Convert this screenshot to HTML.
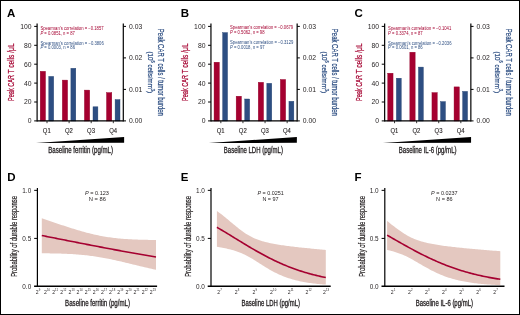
<!DOCTYPE html>
<html><head><meta charset="utf-8"><style>
html,body{margin:0;padding:0;background:#fff;}
svg{display:block;font-family:"Liberation Sans", sans-serif;will-change:transform;}
</style></head><body>
<svg width="520" height="315" viewBox="0 0 520 315">
<rect x="0" y="0" width="520" height="315" fill="#fff"/>
<g transform="translate(0,0)">
<text x="7" y="16.8" font-size="11.5" fill="#000" font-weight="bold">A</text>
<rect x="40.2" y="71.3" width="5.3" height="49.7" fill="#a50030" stroke="#930028" stroke-width="0.4"/>
<rect x="48.8" y="76.4" width="4.9" height="44.6" fill="#2d4e82" stroke="#21406f" stroke-width="0.4"/>
<rect x="62.3" y="80.1" width="5.3" height="40.9" fill="#a50030" stroke="#930028" stroke-width="0.4"/>
<rect x="70.9" y="68.3" width="4.9" height="52.7" fill="#2d4e82" stroke="#21406f" stroke-width="0.4"/>
<rect x="84.4" y="90.1" width="5.3" height="30.9" fill="#a50030" stroke="#930028" stroke-width="0.4"/>
<rect x="93" y="106.8" width="4.9" height="14.2" fill="#2d4e82" stroke="#21406f" stroke-width="0.4"/>
<rect x="106.5" y="92.6" width="5.3" height="28.4" fill="#a50030" stroke="#930028" stroke-width="0.4"/>
<rect x="115.1" y="99.6" width="4.9" height="21.4" fill="#2d4e82" stroke="#21406f" stroke-width="0.4"/>
<line x1="37.1" y1="23.6" x2="37.1" y2="121.4" stroke="#000" stroke-width="1.2"/>
<line x1="123.3" y1="23.6" x2="123.3" y2="121.4" stroke="#000" stroke-width="1.2"/>
<line x1="37.1" y1="120.8" x2="123.3" y2="120.8" stroke="#000" stroke-width="1.2"/>
<line x1="34.2" y1="120.9" x2="37.1" y2="120.9" stroke="#000" stroke-width="1.0"/>
<text x="31.6" y="123.35" font-size="6.8" fill="#231f20" text-anchor="end">0</text>
<line x1="34.2" y1="102" x2="37.1" y2="102" stroke="#000" stroke-width="1.0"/>
<text x="31.6" y="104.45" font-size="6.8" fill="#231f20" text-anchor="end">20</text>
<line x1="34.2" y1="83.1" x2="37.1" y2="83.1" stroke="#000" stroke-width="1.0"/>
<text x="31.6" y="85.55" font-size="6.8" fill="#231f20" text-anchor="end">40</text>
<line x1="34.2" y1="64.2" x2="37.1" y2="64.2" stroke="#000" stroke-width="1.0"/>
<text x="31.6" y="66.65" font-size="6.8" fill="#231f20" text-anchor="end">60</text>
<line x1="34.2" y1="45.3" x2="37.1" y2="45.3" stroke="#000" stroke-width="1.0"/>
<text x="31.6" y="47.75" font-size="6.8" fill="#231f20" text-anchor="end">80</text>
<line x1="34.2" y1="26.4" x2="37.1" y2="26.4" stroke="#000" stroke-width="1.0"/>
<text x="31.6" y="28.85" font-size="6.8" fill="#231f20" text-anchor="end">100</text>
<line x1="123.3" y1="120.9" x2="126" y2="120.9" stroke="#000" stroke-width="1.0"/>
<text x="129" y="123.35" font-size="6.8" fill="#231f20">0.00</text>
<line x1="123.3" y1="89.4" x2="126" y2="89.4" stroke="#000" stroke-width="1.0"/>
<text x="129" y="91.85" font-size="6.8" fill="#231f20">0.01</text>
<line x1="123.3" y1="57.9" x2="126" y2="57.9" stroke="#000" stroke-width="1.0"/>
<text x="129" y="60.35" font-size="6.8" fill="#231f20">0.02</text>
<line x1="123.3" y1="26.4" x2="126" y2="26.4" stroke="#000" stroke-width="1.0"/>
<text x="129" y="28.85" font-size="6.8" fill="#231f20">0.03</text>
<line x1="47" y1="120.8" x2="47" y2="123.2" stroke="#000" stroke-width="0.8"/>
<text x="46.8" y="132.75" font-size="6.3" fill="#231f20" text-anchor="middle" textLength="7.9" lengthAdjust="spacingAndGlyphs" stroke="#231f20" stroke-width="0.12">Q1</text>
<line x1="69.1" y1="120.8" x2="69.1" y2="123.2" stroke="#000" stroke-width="0.8"/>
<text x="68.9" y="132.75" font-size="6.3" fill="#231f20" text-anchor="middle" textLength="7.9" lengthAdjust="spacingAndGlyphs" stroke="#231f20" stroke-width="0.12">Q2</text>
<line x1="91.2" y1="120.8" x2="91.2" y2="123.2" stroke="#000" stroke-width="0.8"/>
<text x="91" y="132.75" font-size="6.3" fill="#231f20" text-anchor="middle" textLength="7.9" lengthAdjust="spacingAndGlyphs" stroke="#231f20" stroke-width="0.12">Q3</text>
<line x1="113.3" y1="120.8" x2="113.3" y2="123.2" stroke="#000" stroke-width="0.8"/>
<text x="113.1" y="132.75" font-size="6.3" fill="#231f20" text-anchor="middle" textLength="7.9" lengthAdjust="spacingAndGlyphs" stroke="#231f20" stroke-width="0.12">Q4</text>
<polygon points="36,142.95 124.1,137.1 124.1,142.85 36,143.05" fill="#000"/>
<text x="48.3" y="152.9" font-size="8.2" fill="#231f20" textLength="64.7" lengthAdjust="spacingAndGlyphs" stroke="#231f20" stroke-width="0.3">Baseline ferritin (pg/mL)</text>
<text x="0" y="0" font-size="9.0" fill="#a50030" textLength="26" lengthAdjust="spacingAndGlyphs" transform="translate(14.4,101.0) rotate(-90)" stroke="#a50030" stroke-width="0.22">Peak CAR</text>
<text x="0" y="0" font-size="9.0" fill="#a50030" textLength="30.2" lengthAdjust="spacingAndGlyphs" transform="translate(14.4,73.6) rotate(-90)" stroke="#a50030" stroke-width="0.22">T cells /μL</text>
<text x="0" y="0" font-size="8.3" fill="#2d4e82" text-anchor="middle" textLength="87" lengthAdjust="spacingAndGlyphs" transform="translate(158.0,72.35) rotate(90)" stroke="#2d4e82" stroke-width="0.22">Peak CAR T cells / tumor burden</text>
<text x="0" y="0" font-size="7.8" fill="#2d4e82" text-anchor="middle" textLength="41.5" lengthAdjust="spacingAndGlyphs" transform="translate(147.9,72.3) rotate(90)" stroke="#2d4e82" stroke-width="0.22">(10<tspan font-size="4.8" dy="-3.1">6</tspan><tspan dy="3.1"> cells/mm</tspan><tspan font-size="4.8" dy="-3.1">3</tspan><tspan dy="3.1">)</tspan></text>
<text x="40.4" y="29.6" font-size="4.6" fill="#a50030" textLength="63.2" lengthAdjust="spacingAndGlyphs">Spearman’s correlation = −0.1857</text>
<text x="40.4" y="35" font-size="4.6" fill="#a50030" textLength="34.5" lengthAdjust="spacingAndGlyphs"><tspan font-style="italic">P</tspan> = 0.0851, n = 87</text>
<text x="40.4" y="44.8" font-size="4.6" fill="#2d4e82" textLength="63.4" lengthAdjust="spacingAndGlyphs">Spearman’s correlation = −0.3806</text>
<text x="40.4" y="49.2" font-size="4.6" fill="#2d4e82" textLength="34.6" lengthAdjust="spacingAndGlyphs"><tspan font-style="italic">P</tspan> = 0.0003, n = 86</text>
</g>
<g transform="translate(173.85,0)">
<text x="7" y="16.8" font-size="11.5" fill="#000" font-weight="bold">B</text>
<rect x="40.2" y="62.2" width="5.3" height="58.8" fill="#a50030" stroke="#930028" stroke-width="0.4"/>
<rect x="48.8" y="32.6" width="4.9" height="88.4" fill="#2d4e82" stroke="#21406f" stroke-width="0.4"/>
<rect x="62.3" y="96.2" width="5.3" height="24.8" fill="#a50030" stroke="#930028" stroke-width="0.4"/>
<rect x="70.9" y="99" width="4.9" height="22" fill="#2d4e82" stroke="#21406f" stroke-width="0.4"/>
<rect x="84.4" y="82.3" width="5.3" height="38.7" fill="#a50030" stroke="#930028" stroke-width="0.4"/>
<rect x="93" y="83.3" width="4.9" height="37.7" fill="#2d4e82" stroke="#21406f" stroke-width="0.4"/>
<rect x="106.5" y="79.5" width="5.3" height="41.5" fill="#a50030" stroke="#930028" stroke-width="0.4"/>
<rect x="115.1" y="101.3" width="4.9" height="19.7" fill="#2d4e82" stroke="#21406f" stroke-width="0.4"/>
<line x1="37.1" y1="23.6" x2="37.1" y2="121.4" stroke="#000" stroke-width="1.2"/>
<line x1="123.3" y1="23.6" x2="123.3" y2="121.4" stroke="#000" stroke-width="1.2"/>
<line x1="37.1" y1="120.8" x2="123.3" y2="120.8" stroke="#000" stroke-width="1.2"/>
<line x1="34.2" y1="120.9" x2="37.1" y2="120.9" stroke="#000" stroke-width="1.0"/>
<text x="31.6" y="123.35" font-size="6.8" fill="#231f20" text-anchor="end">0</text>
<line x1="34.2" y1="102" x2="37.1" y2="102" stroke="#000" stroke-width="1.0"/>
<text x="31.6" y="104.45" font-size="6.8" fill="#231f20" text-anchor="end">20</text>
<line x1="34.2" y1="83.1" x2="37.1" y2="83.1" stroke="#000" stroke-width="1.0"/>
<text x="31.6" y="85.55" font-size="6.8" fill="#231f20" text-anchor="end">40</text>
<line x1="34.2" y1="64.2" x2="37.1" y2="64.2" stroke="#000" stroke-width="1.0"/>
<text x="31.6" y="66.65" font-size="6.8" fill="#231f20" text-anchor="end">60</text>
<line x1="34.2" y1="45.3" x2="37.1" y2="45.3" stroke="#000" stroke-width="1.0"/>
<text x="31.6" y="47.75" font-size="6.8" fill="#231f20" text-anchor="end">80</text>
<line x1="34.2" y1="26.4" x2="37.1" y2="26.4" stroke="#000" stroke-width="1.0"/>
<text x="31.6" y="28.85" font-size="6.8" fill="#231f20" text-anchor="end">100</text>
<line x1="123.3" y1="120.9" x2="126" y2="120.9" stroke="#000" stroke-width="1.0"/>
<text x="129" y="123.35" font-size="6.8" fill="#231f20">0.00</text>
<line x1="123.3" y1="89.4" x2="126" y2="89.4" stroke="#000" stroke-width="1.0"/>
<text x="129" y="91.85" font-size="6.8" fill="#231f20">0.01</text>
<line x1="123.3" y1="57.9" x2="126" y2="57.9" stroke="#000" stroke-width="1.0"/>
<text x="129" y="60.35" font-size="6.8" fill="#231f20">0.02</text>
<line x1="123.3" y1="26.4" x2="126" y2="26.4" stroke="#000" stroke-width="1.0"/>
<text x="129" y="28.85" font-size="6.8" fill="#231f20">0.03</text>
<line x1="47" y1="120.8" x2="47" y2="123.2" stroke="#000" stroke-width="0.8"/>
<text x="46.8" y="132.75" font-size="6.3" fill="#231f20" text-anchor="middle" textLength="7.9" lengthAdjust="spacingAndGlyphs" stroke="#231f20" stroke-width="0.12">Q1</text>
<line x1="69.1" y1="120.8" x2="69.1" y2="123.2" stroke="#000" stroke-width="0.8"/>
<text x="68.9" y="132.75" font-size="6.3" fill="#231f20" text-anchor="middle" textLength="7.9" lengthAdjust="spacingAndGlyphs" stroke="#231f20" stroke-width="0.12">Q2</text>
<line x1="91.2" y1="120.8" x2="91.2" y2="123.2" stroke="#000" stroke-width="0.8"/>
<text x="91" y="132.75" font-size="6.3" fill="#231f20" text-anchor="middle" textLength="7.9" lengthAdjust="spacingAndGlyphs" stroke="#231f20" stroke-width="0.12">Q3</text>
<line x1="113.3" y1="120.8" x2="113.3" y2="123.2" stroke="#000" stroke-width="0.8"/>
<text x="113.1" y="132.75" font-size="6.3" fill="#231f20" text-anchor="middle" textLength="7.9" lengthAdjust="spacingAndGlyphs" stroke="#231f20" stroke-width="0.12">Q4</text>
<polygon points="34.9,142.95 123,137.1 123,142.85 34.9,143.05" fill="#000"/>
<text x="49.95" y="152.9" font-size="8.2" fill="#231f20" textLength="59.1" lengthAdjust="spacingAndGlyphs" stroke="#231f20" stroke-width="0.3">Baseline LDH (pg/mL)</text>
<text x="0" y="0" font-size="9.0" fill="#a50030" textLength="26" lengthAdjust="spacingAndGlyphs" transform="translate(14.4,101.0) rotate(-90)" stroke="#a50030" stroke-width="0.22">Peak CAR</text>
<text x="0" y="0" font-size="9.0" fill="#a50030" textLength="30.2" lengthAdjust="spacingAndGlyphs" transform="translate(14.4,73.6) rotate(-90)" stroke="#a50030" stroke-width="0.22">T cells /μL</text>
<text x="0" y="0" font-size="8.3" fill="#2d4e82" text-anchor="middle" textLength="87" lengthAdjust="spacingAndGlyphs" transform="translate(158.0,72.35) rotate(90)" stroke="#2d4e82" stroke-width="0.22">Peak CAR T cells / tumor burden</text>
<text x="0" y="0" font-size="7.8" fill="#2d4e82" text-anchor="middle" textLength="41.5" lengthAdjust="spacingAndGlyphs" transform="translate(147.9,72.3) rotate(90)" stroke="#2d4e82" stroke-width="0.22">(10<tspan font-size="4.8" dy="-3.1">6</tspan><tspan dy="3.1"> cells/mm</tspan><tspan font-size="4.8" dy="-3.1">3</tspan><tspan dy="3.1">)</tspan></text>
<text x="56.15" y="28.9" font-size="4.6" fill="#a50030" textLength="63.2" lengthAdjust="spacingAndGlyphs">Spearman’s correlation = −0.0679</text>
<text x="56.15" y="34.3" font-size="4.6" fill="#a50030" textLength="34.5" lengthAdjust="spacingAndGlyphs"><tspan font-style="italic">P</tspan> = 0.5062, n = 98</text>
<text x="56.15" y="44.1" font-size="4.6" fill="#2d4e82" textLength="63.4" lengthAdjust="spacingAndGlyphs">Spearman’s correlation = −0.3129</text>
<text x="56.15" y="48.5" font-size="4.6" fill="#2d4e82" textLength="34.6" lengthAdjust="spacingAndGlyphs"><tspan font-style="italic">P</tspan> = 0.0018, n = 97</text>
</g>
<g transform="translate(347.55,0)">
<text x="7" y="16.8" font-size="11.5" fill="#000" font-weight="bold">C</text>
<rect x="40.2" y="73.2" width="5.3" height="47.8" fill="#a50030" stroke="#930028" stroke-width="0.4"/>
<rect x="48.8" y="78.2" width="4.9" height="42.8" fill="#2d4e82" stroke="#21406f" stroke-width="0.4"/>
<rect x="62.3" y="52.2" width="5.3" height="68.8" fill="#a50030" stroke="#930028" stroke-width="0.4"/>
<rect x="70.9" y="67.1" width="4.9" height="53.9" fill="#2d4e82" stroke="#21406f" stroke-width="0.4"/>
<rect x="84.4" y="92.6" width="5.3" height="28.4" fill="#a50030" stroke="#930028" stroke-width="0.4"/>
<rect x="93" y="101.6" width="4.9" height="19.4" fill="#2d4e82" stroke="#21406f" stroke-width="0.4"/>
<rect x="106.5" y="86.9" width="5.3" height="34.1" fill="#a50030" stroke="#930028" stroke-width="0.4"/>
<rect x="115.1" y="91.4" width="4.9" height="29.6" fill="#2d4e82" stroke="#21406f" stroke-width="0.4"/>
<line x1="37.1" y1="23.6" x2="37.1" y2="121.4" stroke="#000" stroke-width="1.2"/>
<line x1="123.3" y1="23.6" x2="123.3" y2="121.4" stroke="#000" stroke-width="1.2"/>
<line x1="37.1" y1="120.8" x2="123.3" y2="120.8" stroke="#000" stroke-width="1.2"/>
<line x1="34.2" y1="120.9" x2="37.1" y2="120.9" stroke="#000" stroke-width="1.0"/>
<text x="31.6" y="123.35" font-size="6.8" fill="#231f20" text-anchor="end">0</text>
<line x1="34.2" y1="102" x2="37.1" y2="102" stroke="#000" stroke-width="1.0"/>
<text x="31.6" y="104.45" font-size="6.8" fill="#231f20" text-anchor="end">20</text>
<line x1="34.2" y1="83.1" x2="37.1" y2="83.1" stroke="#000" stroke-width="1.0"/>
<text x="31.6" y="85.55" font-size="6.8" fill="#231f20" text-anchor="end">40</text>
<line x1="34.2" y1="64.2" x2="37.1" y2="64.2" stroke="#000" stroke-width="1.0"/>
<text x="31.6" y="66.65" font-size="6.8" fill="#231f20" text-anchor="end">60</text>
<line x1="34.2" y1="45.3" x2="37.1" y2="45.3" stroke="#000" stroke-width="1.0"/>
<text x="31.6" y="47.75" font-size="6.8" fill="#231f20" text-anchor="end">80</text>
<line x1="34.2" y1="26.4" x2="37.1" y2="26.4" stroke="#000" stroke-width="1.0"/>
<text x="31.6" y="28.85" font-size="6.8" fill="#231f20" text-anchor="end">100</text>
<line x1="123.3" y1="120.9" x2="126" y2="120.9" stroke="#000" stroke-width="1.0"/>
<text x="129" y="123.35" font-size="6.8" fill="#231f20">0.00</text>
<line x1="123.3" y1="89.4" x2="126" y2="89.4" stroke="#000" stroke-width="1.0"/>
<text x="129" y="91.85" font-size="6.8" fill="#231f20">0.01</text>
<line x1="123.3" y1="57.9" x2="126" y2="57.9" stroke="#000" stroke-width="1.0"/>
<text x="129" y="60.35" font-size="6.8" fill="#231f20">0.02</text>
<line x1="123.3" y1="26.4" x2="126" y2="26.4" stroke="#000" stroke-width="1.0"/>
<text x="129" y="28.85" font-size="6.8" fill="#231f20">0.03</text>
<line x1="47" y1="120.8" x2="47" y2="123.2" stroke="#000" stroke-width="0.8"/>
<text x="46.8" y="132.75" font-size="6.3" fill="#231f20" text-anchor="middle" textLength="7.9" lengthAdjust="spacingAndGlyphs" stroke="#231f20" stroke-width="0.12">Q1</text>
<line x1="69.1" y1="120.8" x2="69.1" y2="123.2" stroke="#000" stroke-width="0.8"/>
<text x="68.9" y="132.75" font-size="6.3" fill="#231f20" text-anchor="middle" textLength="7.9" lengthAdjust="spacingAndGlyphs" stroke="#231f20" stroke-width="0.12">Q2</text>
<line x1="91.2" y1="120.8" x2="91.2" y2="123.2" stroke="#000" stroke-width="0.8"/>
<text x="91" y="132.75" font-size="6.3" fill="#231f20" text-anchor="middle" textLength="7.9" lengthAdjust="spacingAndGlyphs" stroke="#231f20" stroke-width="0.12">Q3</text>
<line x1="113.3" y1="120.8" x2="113.3" y2="123.2" stroke="#000" stroke-width="0.8"/>
<text x="113.1" y="132.75" font-size="6.3" fill="#231f20" text-anchor="middle" textLength="7.9" lengthAdjust="spacingAndGlyphs" stroke="#231f20" stroke-width="0.12">Q4</text>
<polygon points="35.4,142.95 123.5,137.1 123.5,142.85 35.4,143.05" fill="#000"/>
<text x="51.25" y="152.9" font-size="8.2" fill="#231f20" textLength="57.7" lengthAdjust="spacingAndGlyphs" stroke="#231f20" stroke-width="0.3">Baseline IL-6 (pg/mL)</text>
<text x="0" y="0" font-size="9.0" fill="#a50030" textLength="26" lengthAdjust="spacingAndGlyphs" transform="translate(14.4,101.0) rotate(-90)" stroke="#a50030" stroke-width="0.22">Peak CAR</text>
<text x="0" y="0" font-size="9.0" fill="#a50030" textLength="30.2" lengthAdjust="spacingAndGlyphs" transform="translate(14.4,73.6) rotate(-90)" stroke="#a50030" stroke-width="0.22">T cells /μL</text>
<text x="0" y="0" font-size="8.3" fill="#2d4e82" text-anchor="middle" textLength="87" lengthAdjust="spacingAndGlyphs" transform="translate(158.0,72.35) rotate(90)" stroke="#2d4e82" stroke-width="0.22">Peak CAR T cells / tumor burden</text>
<text x="0" y="0" font-size="7.8" fill="#2d4e82" text-anchor="middle" textLength="41.5" lengthAdjust="spacingAndGlyphs" transform="translate(147.9,72.3) rotate(90)" stroke="#2d4e82" stroke-width="0.22">(10<tspan font-size="4.8" dy="-3.1">6</tspan><tspan dy="3.1"> cells/mm</tspan><tspan font-size="4.8" dy="-3.1">3</tspan><tspan dy="3.1">)</tspan></text>
<text x="40.55" y="29.6" font-size="4.6" fill="#a50030" textLength="63.2" lengthAdjust="spacingAndGlyphs">Spearman’s correlation = −0.1041</text>
<text x="40.55" y="35" font-size="4.6" fill="#a50030" textLength="34.5" lengthAdjust="spacingAndGlyphs"><tspan font-style="italic">P</tspan> = 0.3374, n = 87</text>
<text x="40.55" y="44.8" font-size="4.6" fill="#2d4e82" textLength="63.4" lengthAdjust="spacingAndGlyphs">Spearman’s correlation = −0.2036</text>
<text x="40.55" y="49.2" font-size="4.6" fill="#2d4e82" textLength="34.6" lengthAdjust="spacingAndGlyphs"><tspan font-style="italic">P</tspan> = 0.0601, n = 86</text>
</g>
<polygon fill="#e4c8c0" points="41.8,218.37 43.25,218.84 44.69,219.32 46.14,219.8 47.58,220.29 49.03,220.77 50.47,221.26 51.92,221.74 53.36,222.23 54.81,222.71 56.26,223.2 57.7,223.69 59.15,224.17 60.59,224.65 62.04,225.13 63.48,225.61 64.93,226.09 66.37,226.56 67.82,227.03 69.27,227.5 70.71,227.96 72.16,228.42 73.6,228.87 75.05,229.32 76.49,229.76 77.94,230.19 79.38,230.62 80.83,231.04 82.28,231.45 83.72,231.85 85.17,232.24 86.61,232.63 88.06,233.01 89.5,233.37 90.95,233.73 92.39,234.07 93.84,234.4 95.29,234.73 96.73,235.04 98.18,235.34 99.62,235.63 101.07,235.91 102.51,236.17 103.96,236.43 105.41,236.67 106.85,236.91 108.3,237.13 109.74,237.34 111.19,237.54 112.63,237.73 114.08,237.91 115.52,238.08 116.97,238.23 118.42,238.38 119.86,238.53 121.31,238.66 122.75,238.78 124.2,238.9 125.64,239 127.09,239.1 128.53,239.2 129.98,239.28 131.43,239.36 132.87,239.43 134.32,239.5 135.76,239.56 137.21,239.62 138.65,239.67 140.1,239.71 141.54,239.76 142.99,239.79 144.44,239.82 145.88,239.85 147.33,239.87 148.77,239.89 150.22,239.91 151.66,239.92 153.11,239.93 154.55,239.94 156,239.95 156,269.84 154.55,269.52 153.11,269.2 151.66,268.87 150.22,268.54 148.77,268.2 147.33,267.87 145.88,267.53 144.44,267.18 142.99,266.84 141.54,266.49 140.1,266.15 138.65,265.8 137.21,265.45 135.76,265.1 134.32,264.75 132.87,264.39 131.43,264.04 129.98,263.69 128.53,263.34 127.09,262.99 125.64,262.65 124.2,262.3 122.75,261.96 121.31,261.62 119.86,261.29 118.42,260.95 116.97,260.63 115.52,260.3 114.08,259.98 112.63,259.67 111.19,259.37 109.74,259.07 108.3,258.77 106.85,258.49 105.41,258.21 103.96,257.94 102.51,257.67 101.07,257.42 99.62,257.17 98.18,256.93 96.73,256.7 95.29,256.48 93.84,256.27 92.39,256.07 90.95,255.88 89.5,255.69 88.06,255.51 86.61,255.35 85.17,255.19 83.72,255.04 82.28,254.9 80.83,254.76 79.38,254.64 77.94,254.52 76.49,254.41 75.05,254.3 73.6,254.2 72.16,254.11 70.71,254.03 69.27,253.95 67.82,253.88 66.37,253.81 64.93,253.75 63.48,253.69 62.04,253.64 60.59,253.6 59.15,253.55 57.7,253.52 56.26,253.48 54.81,253.45 53.36,253.43 51.92,253.4 50.47,253.39 49.03,253.37 47.58,253.36 46.14,253.35 44.69,253.34 43.25,253.34 41.8,253.33"/>
<polyline fill="none" stroke="#a50030" stroke-width="1.6" points="41.8,235.51 43.25,235.8 44.69,236.09 46.14,236.37 47.58,236.66 49.03,236.94 50.47,237.23 51.92,237.52 53.36,237.8 54.81,238.09 56.26,238.37 57.7,238.66 59.15,238.95 60.59,239.23 62.04,239.52 63.48,239.8 64.93,240.09 66.37,240.37 67.82,240.66 69.27,240.95 70.71,241.23 72.16,241.52 73.6,241.8 75.05,242.08 76.49,242.37 77.94,242.65 79.38,242.94 80.83,243.22 82.28,243.5 83.72,243.78 85.17,244.06 86.61,244.35 88.06,244.63 89.5,244.91 90.95,245.19 92.39,245.47 93.84,245.75 95.29,246.03 96.73,246.3 98.18,246.58 99.62,246.86 101.07,247.13 102.51,247.41 103.96,247.68 105.41,247.96 106.85,248.23 108.3,248.51 109.74,248.78 111.19,249.05 112.63,249.32 114.08,249.59 115.52,249.86 116.97,250.13 118.42,250.4 119.86,250.66 121.31,250.93 122.75,251.19 124.2,251.46 125.64,251.72 127.09,251.98 128.53,252.25 129.98,252.51 131.43,252.77 132.87,253.02 134.32,253.28 135.76,253.54 137.21,253.8 138.65,254.05 140.1,254.3 141.54,254.56 142.99,254.81 144.44,255.06 145.88,255.31 147.33,255.56 148.77,255.81 150.22,256.05 151.66,256.3 153.11,256.54 154.55,256.79 156,257.03"/>
<g transform="translate(0,0)">
<text x="7.2" y="181.2" font-size="11.5" fill="#000" font-weight="bold">D</text>
<line x1="37.4" y1="187.9" x2="37.4" y2="286.8" stroke="#000" stroke-width="1.2"/>
<line x1="34.1" y1="286.25" x2="157.1" y2="286.25" stroke="#000" stroke-width="1.3"/>
<line x1="34.2" y1="190.35" x2="37.4" y2="190.35" stroke="#000" stroke-width="1.0"/>
<text x="31.2" y="192.8" font-size="6.4" fill="#231f20" text-anchor="end">1.0</text>
<line x1="34.2" y1="238.4" x2="37.4" y2="238.4" stroke="#000" stroke-width="1.0"/>
<text x="31.2" y="240.85" font-size="6.4" fill="#231f20" text-anchor="end">0.5</text>
<text x="31.2" y="288.7" font-size="6.4" fill="#231f20" text-anchor="end">0.0</text>
<text x="0" y="0" font-size="8.3" fill="#231f20" text-anchor="middle" textLength="80.8" lengthAdjust="spacingAndGlyphs" transform="translate(16.9,236.4) rotate(-90)" stroke="#231f20" stroke-width="0.22">Probability of durable response</text>
</g>
<text x="85" y="195.1" font-size="4.7" fill="#231f20" textLength="23.9" lengthAdjust="spacingAndGlyphs"><tspan font-style="italic">P</tspan> = 0.123</text>
<text x="88.7" y="200.8" font-size="4.7" fill="#231f20" textLength="17.2" lengthAdjust="spacingAndGlyphs">N = 86</text>
<text x="35.85" y="293.8" font-size="5.1" fill="#231f20">2<tspan font-size="2.8" dx="0.15" dy="-2.9">9</tspan></text>
<text x="43.99" y="293.8" font-size="5.1" fill="#231f20">2<tspan font-size="2.8" dx="0.15" dy="-2.9">10</tspan></text>
<text x="52.13" y="293.8" font-size="5.1" fill="#231f20">2<tspan font-size="2.8" dx="0.15" dy="-2.9">11</tspan></text>
<text x="60.27" y="293.8" font-size="5.1" fill="#231f20">2<tspan font-size="2.8" dx="0.15" dy="-2.9">12</tspan></text>
<text x="68.41" y="293.8" font-size="5.1" fill="#231f20">2<tspan font-size="2.8" dx="0.15" dy="-2.9">13</tspan></text>
<text x="76.55" y="293.8" font-size="5.1" fill="#231f20">2<tspan font-size="2.8" dx="0.15" dy="-2.9">14</tspan></text>
<text x="84.69" y="293.8" font-size="5.1" fill="#231f20">2<tspan font-size="2.8" dx="0.15" dy="-2.9">15</tspan></text>
<text x="92.83" y="293.8" font-size="5.1" fill="#231f20">2<tspan font-size="2.8" dx="0.15" dy="-2.9">16</tspan></text>
<text x="100.97" y="293.8" font-size="5.1" fill="#231f20">2<tspan font-size="2.8" dx="0.15" dy="-2.9">17</tspan></text>
<text x="109.11" y="293.8" font-size="5.1" fill="#231f20">2<tspan font-size="2.8" dx="0.15" dy="-2.9">18</tspan></text>
<text x="117.25" y="293.8" font-size="5.1" fill="#231f20">2<tspan font-size="2.8" dx="0.15" dy="-2.9">19</tspan></text>
<text x="125.39" y="293.8" font-size="5.1" fill="#231f20">2<tspan font-size="2.8" dx="0.15" dy="-2.9">20</tspan></text>
<text x="133.53" y="293.8" font-size="5.1" fill="#231f20">2<tspan font-size="2.8" dx="0.15" dy="-2.9">21</tspan></text>
<text x="141.67" y="293.8" font-size="5.1" fill="#231f20">2<tspan font-size="2.8" dx="0.15" dy="-2.9">22</tspan></text>
<text x="149.81" y="293.8" font-size="5.1" fill="#231f20">2<tspan font-size="2.8" dx="0.15" dy="-2.9">23</tspan></text>
<text x="65.1" y="305.8" font-size="8.2" fill="#231f20" textLength="64.9" lengthAdjust="spacingAndGlyphs" stroke="#231f20" stroke-width="0.3">Baseline ferritin (pg/mL)</text>
<polygon fill="#e4c8c0" points="216.9,210.89 218.28,211.89 219.66,212.93 221.04,213.98 222.41,215.06 223.79,216.17 225.17,217.29 226.55,218.42 227.93,219.57 229.31,220.72 230.68,221.88 232.06,223.05 233.44,224.2 234.82,225.35 236.2,226.49 237.58,227.6 238.96,228.69 240.33,229.76 241.71,230.79 243.09,231.79 244.47,232.74 245.85,233.65 247.23,234.52 248.61,235.34 249.98,236.11 251.36,236.84 252.74,237.51 254.12,238.15 255.5,238.74 256.88,239.29 258.25,239.81 259.63,240.29 261.01,240.74 262.39,241.16 263.77,241.55 265.15,241.92 266.53,242.27 267.9,242.6 269.28,242.91 270.66,243.2 272.04,243.48 273.42,243.75 274.8,244 276.17,244.25 277.55,244.48 278.93,244.71 280.31,244.92 281.69,245.13 283.07,245.33 284.45,245.53 285.82,245.72 287.2,245.9 288.58,246.08 289.96,246.26 291.34,246.43 292.72,246.59 294.09,246.76 295.47,246.92 296.85,247.07 298.23,247.23 299.61,247.38 300.99,247.52 302.37,247.67 303.74,247.81 305.12,247.96 306.5,248.1 307.88,248.23 309.26,248.37 310.64,248.5 312.02,248.64 313.39,248.77 314.77,248.9 316.15,249.02 317.53,249.15 318.91,249.28 320.29,249.4 321.66,249.53 323.04,249.65 324.42,249.77 325.8,249.89 325.8,284.6 324.42,284.5 323.04,284.4 321.66,284.28 320.29,284.16 318.91,284.04 317.53,283.9 316.15,283.76 314.77,283.61 313.39,283.44 312.02,283.27 310.64,283.09 309.26,282.89 307.88,282.69 306.5,282.47 305.12,282.24 303.74,281.99 302.37,281.73 300.99,281.46 299.61,281.17 298.23,280.86 296.85,280.54 295.47,280.19 294.09,279.83 292.72,279.45 291.34,279.05 289.96,278.62 288.58,278.18 287.2,277.71 285.82,277.22 284.45,276.7 283.07,276.16 281.69,275.6 280.31,275.01 278.93,274.39 277.55,273.75 276.17,273.09 274.8,272.4 273.42,271.68 272.04,270.94 270.66,270.18 269.28,269.39 267.9,268.59 266.53,267.76 265.15,266.92 263.77,266.06 262.39,265.19 261.01,264.31 259.63,263.43 258.25,262.55 256.88,261.67 255.5,260.79 254.12,259.93 252.74,259.08 251.36,258.26 249.98,257.46 248.61,256.68 247.23,255.94 245.85,255.23 244.47,254.55 243.09,253.91 241.71,253.31 240.33,252.74 238.96,252.2 237.58,251.7 236.2,251.23 234.82,250.78 233.44,250.36 232.06,249.97 230.68,249.6 229.31,249.25 227.93,248.92 226.55,248.61 225.17,248.31 223.79,248.03 222.41,247.75 221.04,247.5 219.66,247.25 218.28,247.01 216.9,246.78"/>
<polyline fill="none" stroke="#a50030" stroke-width="1.6" points="216.9,227.26 218.28,228.07 219.66,228.88 221.04,229.7 222.41,230.52 223.79,231.35 225.17,232.18 226.55,233.01 227.93,233.85 229.31,234.69 230.68,235.53 232.06,236.38 233.44,237.22 234.82,238.07 236.2,238.91 237.58,239.76 238.96,240.6 240.33,241.44 241.71,242.28 243.09,243.12 244.47,243.96 245.85,244.79 247.23,245.61 248.61,246.44 249.98,247.25 251.36,248.07 252.74,248.87 254.12,249.67 255.5,250.46 256.88,251.25 258.25,252.03 259.63,252.8 261.01,253.56 262.39,254.31 263.77,255.06 265.15,255.79 266.53,256.52 267.9,257.23 269.28,257.94 270.66,258.64 272.04,259.32 273.42,260 274.8,260.66 276.17,261.31 277.55,261.95 278.93,262.58 280.31,263.2 281.69,263.81 283.07,264.41 284.45,264.99 285.82,265.57 287.2,266.13 288.58,266.68 289.96,267.22 291.34,267.75 292.72,268.27 294.09,268.77 295.47,269.27 296.85,269.75 298.23,270.22 299.61,270.68 300.99,271.13 302.37,271.57 303.74,272 305.12,272.42 306.5,272.83 307.88,273.23 309.26,273.61 310.64,273.99 312.02,274.36 313.39,274.72 314.77,275.06 316.15,275.4 317.53,275.73 318.91,276.05 320.29,276.37 321.66,276.67 323.04,276.97 324.42,277.25 325.8,277.53"/>
<g transform="translate(173.6,0)">
<text x="7.2" y="181.2" font-size="11.5" fill="#000" font-weight="bold">E</text>
<line x1="37.4" y1="187.9" x2="37.4" y2="286.8" stroke="#000" stroke-width="1.2"/>
<line x1="34.1" y1="286.25" x2="157.1" y2="286.25" stroke="#000" stroke-width="1.3"/>
<line x1="34.2" y1="190.35" x2="37.4" y2="190.35" stroke="#000" stroke-width="1.0"/>
<text x="31.2" y="192.8" font-size="6.4" fill="#231f20" text-anchor="end">1.0</text>
<line x1="34.2" y1="238.4" x2="37.4" y2="238.4" stroke="#000" stroke-width="1.0"/>
<text x="31.2" y="240.85" font-size="6.4" fill="#231f20" text-anchor="end">0.5</text>
<text x="31.2" y="288.7" font-size="6.4" fill="#231f20" text-anchor="end">0.0</text>
<text x="0" y="0" font-size="8.3" fill="#231f20" text-anchor="middle" textLength="80.8" lengthAdjust="spacingAndGlyphs" transform="translate(16.9,236.4) rotate(-90)" stroke="#231f20" stroke-width="0.22">Probability of durable response</text>
</g>
<text x="257.4" y="195.1" font-size="4.7" fill="#231f20" textLength="26.5" lengthAdjust="spacingAndGlyphs"><tspan font-style="italic">P</tspan> = 0.0251</text>
<text x="262.4" y="200.8" font-size="4.7" fill="#231f20" textLength="16.2" lengthAdjust="spacingAndGlyphs">N = 97</text>
<text x="217.15" y="293.8" font-size="5.1" fill="#231f20">2<tspan font-size="2.8" dx="0.15" dy="-2.9">7</tspan></text>
<text x="234.8" y="293.8" font-size="5.1" fill="#231f20">2<tspan font-size="2.8" dx="0.15" dy="-2.9">8</tspan></text>
<text x="252.45" y="293.8" font-size="5.1" fill="#231f20">2<tspan font-size="2.8" dx="0.15" dy="-2.9">9</tspan></text>
<text x="270.1" y="293.8" font-size="5.1" fill="#231f20">2<tspan font-size="2.8" dx="0.15" dy="-2.9">10</tspan></text>
<text x="287.75" y="293.8" font-size="5.1" fill="#231f20">2<tspan font-size="2.8" dx="0.15" dy="-2.9">11</tspan></text>
<text x="305.4" y="293.8" font-size="5.1" fill="#231f20">2<tspan font-size="2.8" dx="0.15" dy="-2.9">12</tspan></text>
<text x="323.05" y="293.8" font-size="5.1" fill="#231f20">2<tspan font-size="2.8" dx="0.15" dy="-2.9">13</tspan></text>
<text x="241.5" y="305.8" font-size="8.2" fill="#231f20" textLength="58.5" lengthAdjust="spacingAndGlyphs" stroke="#231f20" stroke-width="0.3">Baseline LDH (pg/mL)</text>
<polygon fill="#e4c8c0" points="387.1,220.97 388.53,222.11 389.97,223.24 391.4,224.38 392.83,225.5 394.26,226.61 395.7,227.71 397.13,228.79 398.56,229.84 400,230.86 401.43,231.85 402.86,232.8 404.29,233.72 405.73,234.59 407.16,235.42 408.59,236.2 410.03,236.94 411.46,237.63 412.89,238.28 414.33,238.89 415.76,239.46 417.19,239.99 418.62,240.49 420.06,240.96 421.49,241.39 422.92,241.8 424.36,242.18 425.79,242.54 427.22,242.88 428.65,243.2 430.09,243.51 431.52,243.79 432.95,244.07 434.39,244.33 435.82,244.58 437.25,244.81 438.68,245.04 440.12,245.26 441.55,245.47 442.98,245.68 444.42,245.88 445.85,246.07 447.28,246.25 448.72,246.43 450.15,246.61 451.58,246.78 453.01,246.94 454.45,247.11 455.88,247.27 457.31,247.42 458.75,247.57 460.18,247.72 461.61,247.87 463.04,248.01 464.48,248.16 465.91,248.3 467.34,248.43 468.78,248.57 470.21,248.7 471.64,248.83 473.07,248.96 474.51,249.09 475.94,249.22 477.37,249.34 478.81,249.47 480.24,249.59 481.67,249.71 483.11,249.83 484.54,249.95 485.97,250.07 487.4,250.19 488.84,250.3 490.27,250.42 491.7,250.53 493.14,250.65 494.57,250.76 496,250.87 497.43,250.98 498.87,251.09 500.3,251.2 500.3,285.13 498.87,285.07 497.43,285 496,284.93 494.57,284.85 493.14,284.77 491.7,284.69 490.27,284.6 488.84,284.5 487.4,284.4 485.97,284.29 484.54,284.17 483.11,284.05 481.67,283.92 480.24,283.78 478.81,283.64 477.37,283.48 475.94,283.32 474.51,283.14 473.07,282.96 471.64,282.76 470.21,282.56 468.78,282.34 467.34,282.11 465.91,281.86 464.48,281.6 463.04,281.33 461.61,281.04 460.18,280.74 458.75,280.42 457.31,280.08 455.88,279.72 454.45,279.35 453.01,278.95 451.58,278.54 450.15,278.1 448.72,277.65 447.28,277.17 445.85,276.67 444.42,276.15 442.98,275.6 441.55,275.03 440.12,274.44 438.68,273.82 437.25,273.18 435.82,272.52 434.39,271.83 432.95,271.12 431.52,270.39 430.09,269.64 428.65,268.87 427.22,268.09 425.79,267.29 424.36,266.47 422.92,265.64 421.49,264.81 420.06,263.97 418.62,263.13 417.19,262.29 415.76,261.45 414.33,260.63 412.89,259.82 411.46,259.03 410.03,258.26 408.59,257.51 407.16,256.8 405.73,256.11 404.29,255.45 402.86,254.83 401.43,254.23 400,253.67 398.56,253.15 397.13,252.65 395.7,252.18 394.26,251.74 392.83,251.32 391.4,250.93 389.97,250.56 388.53,250.22 387.1,249.89"/>
<polyline fill="none" stroke="#a50030" stroke-width="1.6" points="387.1,235.17 388.53,235.98 389.97,236.8 391.4,237.62 392.83,238.44 394.26,239.26 395.7,240.08 397.13,240.89 398.56,241.71 400,242.52 401.43,243.33 402.86,244.14 404.29,244.94 405.73,245.74 407.16,246.54 408.59,247.33 410.03,248.12 411.46,248.9 412.89,249.67 414.33,250.44 415.76,251.2 417.19,251.95 418.62,252.7 420.06,253.44 421.49,254.17 422.92,254.89 424.36,255.61 425.79,256.31 427.22,257.01 428.65,257.69 430.09,258.37 431.52,259.04 432.95,259.7 434.39,260.34 435.82,260.98 437.25,261.61 438.68,262.23 440.12,262.83 441.55,263.43 442.98,264.01 444.42,264.59 445.85,265.15 447.28,265.7 448.72,266.25 450.15,266.78 451.58,267.3 453.01,267.81 454.45,268.31 455.88,268.8 457.31,269.28 458.75,269.74 460.18,270.2 461.61,270.65 463.04,271.09 464.48,271.51 465.91,271.93 467.34,272.34 468.78,272.73 470.21,273.12 471.64,273.5 473.07,273.87 474.51,274.23 475.94,274.58 477.37,274.92 478.81,275.25 480.24,275.57 481.67,275.89 483.11,276.2 484.54,276.49 485.97,276.79 487.4,277.07 488.84,277.34 490.27,277.61 491.7,277.87 493.14,278.12 494.57,278.37 496,278.61 497.43,278.84 498.87,279.07 500.3,279.28"/>
<g transform="translate(347.4,0)">
<text x="7.2" y="181.2" font-size="11.5" fill="#000" font-weight="bold">F</text>
<line x1="37.4" y1="187.9" x2="37.4" y2="286.8" stroke="#000" stroke-width="1.2"/>
<line x1="34.1" y1="286.25" x2="157.1" y2="286.25" stroke="#000" stroke-width="1.3"/>
<line x1="34.2" y1="190.35" x2="37.4" y2="190.35" stroke="#000" stroke-width="1.0"/>
<text x="31.2" y="192.8" font-size="6.4" fill="#231f20" text-anchor="end">1.0</text>
<line x1="34.2" y1="238.4" x2="37.4" y2="238.4" stroke="#000" stroke-width="1.0"/>
<text x="31.2" y="240.85" font-size="6.4" fill="#231f20" text-anchor="end">0.5</text>
<text x="31.2" y="288.7" font-size="6.4" fill="#231f20" text-anchor="end">0.0</text>
<text x="0" y="0" font-size="8.3" fill="#231f20" text-anchor="middle" textLength="80.8" lengthAdjust="spacingAndGlyphs" transform="translate(17.4,236.4) rotate(-90)" stroke="#231f20" stroke-width="0.22">Probability of durable response</text>
</g>
<text x="431" y="195.1" font-size="4.7" fill="#231f20" textLength="26.6" lengthAdjust="spacingAndGlyphs"><tspan font-style="italic">P</tspan> = 0.0237</text>
<text x="436.1" y="200.8" font-size="4.7" fill="#231f20" textLength="16.5" lengthAdjust="spacingAndGlyphs">N = 86</text>
<text x="390.85" y="293.8" font-size="5.1" fill="#231f20">2<tspan font-size="2.8" dx="0.15" dy="-2.9">1</tspan></text>
<text x="407.93" y="293.8" font-size="5.1" fill="#231f20">2<tspan font-size="2.8" dx="0.15" dy="-2.9">2</tspan></text>
<text x="425.01" y="293.8" font-size="5.1" fill="#231f20">2<tspan font-size="2.8" dx="0.15" dy="-2.9">3</tspan></text>
<text x="442.09" y="293.8" font-size="5.1" fill="#231f20">2<tspan font-size="2.8" dx="0.15" dy="-2.9">4</tspan></text>
<text x="459.17" y="293.8" font-size="5.1" fill="#231f20">2<tspan font-size="2.8" dx="0.15" dy="-2.9">5</tspan></text>
<text x="476.25" y="293.8" font-size="5.1" fill="#231f20">2<tspan font-size="2.8" dx="0.15" dy="-2.9">6</tspan></text>
<text x="493.33" y="293.8" font-size="5.1" fill="#231f20">2<tspan font-size="2.8" dx="0.15" dy="-2.9">7</tspan></text>
<text x="415.8" y="305.8" font-size="8.2" fill="#231f20" textLength="57.2" lengthAdjust="spacingAndGlyphs" stroke="#231f20" stroke-width="0.3">Baseline IL-6 (pg/mL)</text>
<rect x="0" y="0" width="520" height="1" fill="#000"/>
<rect x="0" y="0" width="1" height="315" fill="#000"/>
<rect x="519" y="0" width="1" height="315" fill="#000"/>
<rect x="0" y="314" width="520" height="1" fill="#000"/>
</svg>
</body></html>
